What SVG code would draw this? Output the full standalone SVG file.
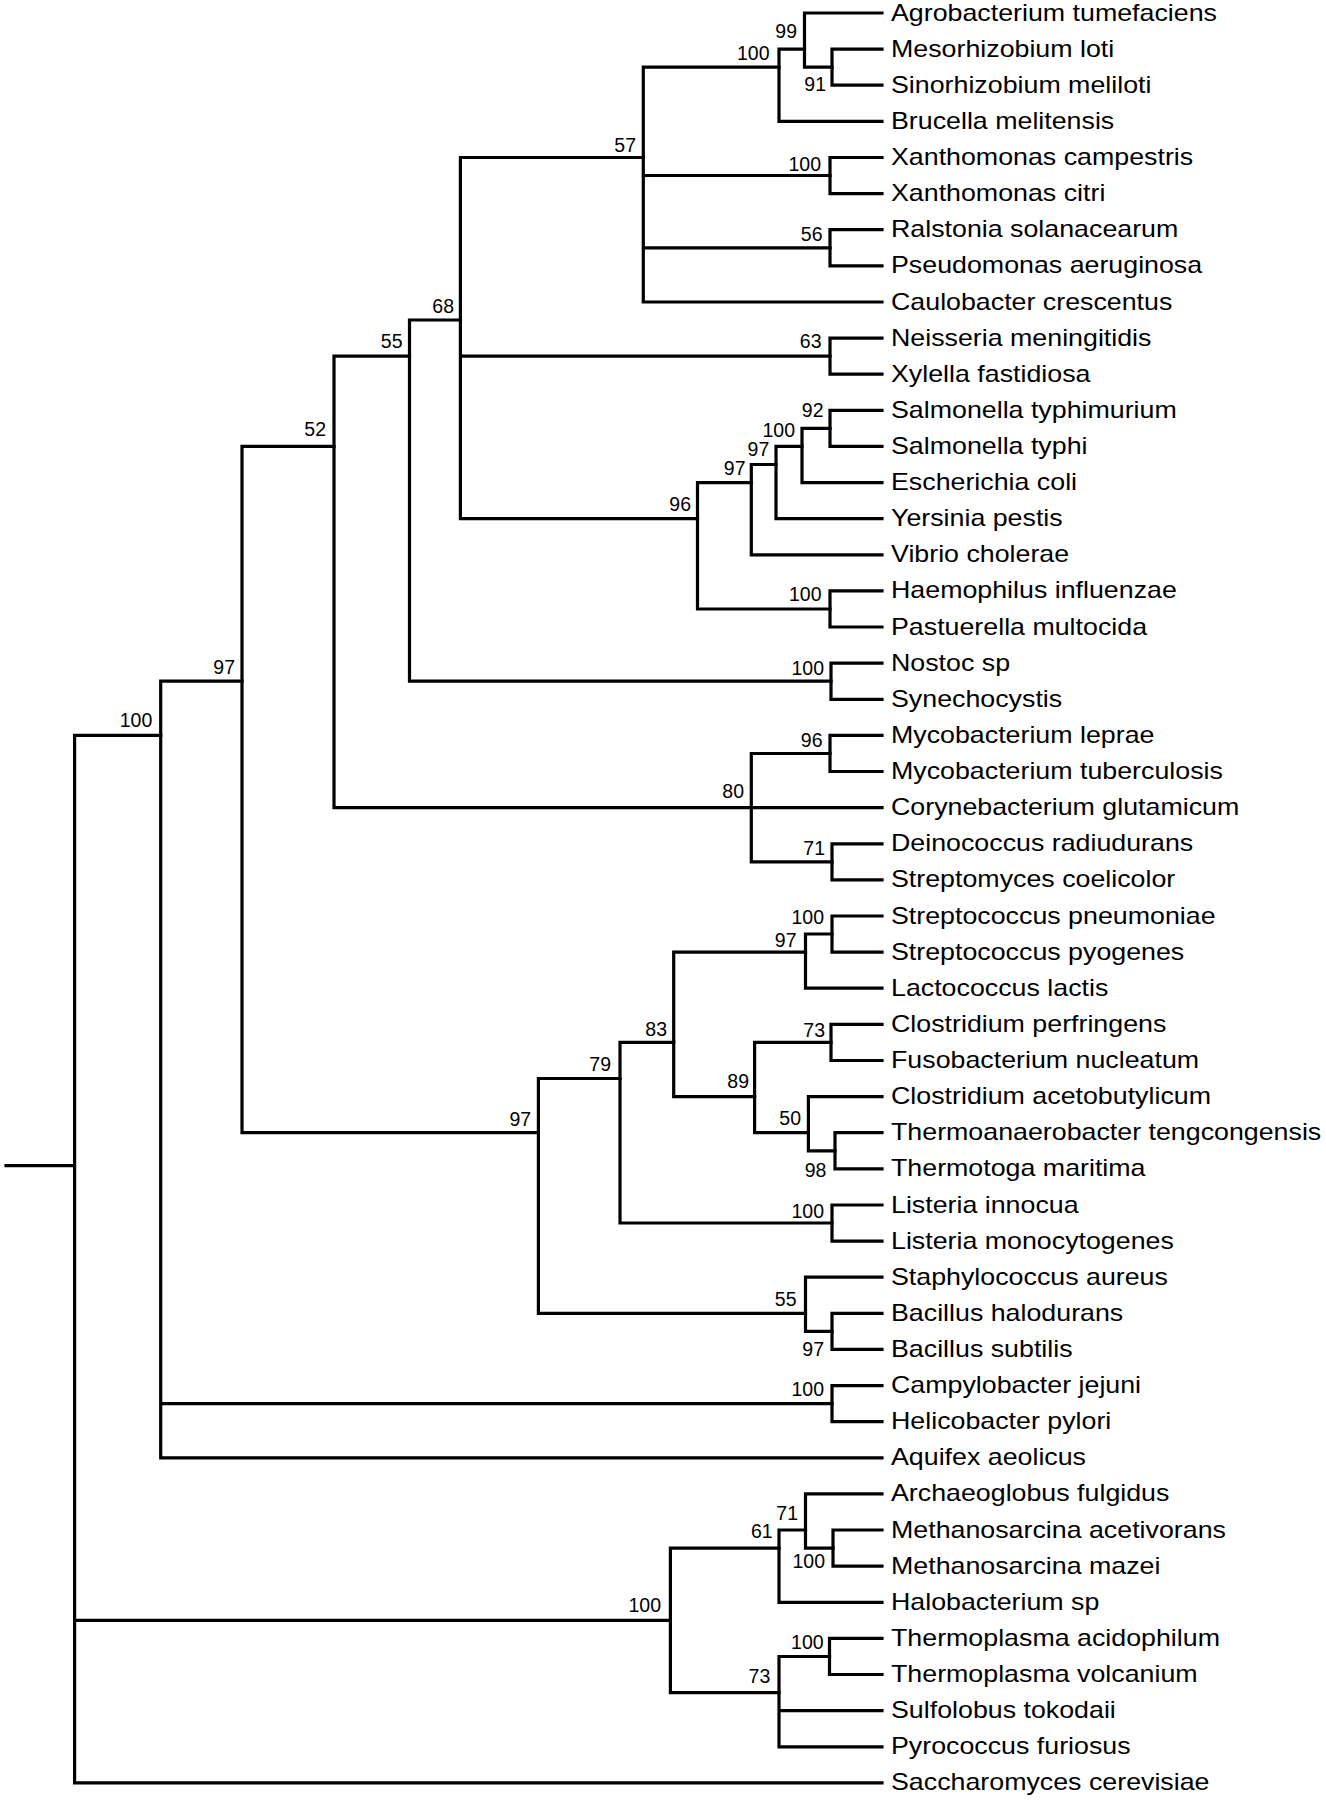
<svg xmlns="http://www.w3.org/2000/svg" width="1326" height="1800" viewBox="0 0 1326 1800">
<style>
.br{fill:none;stroke:#000;stroke-width:3.2;stroke-linecap:square;stroke-linejoin:miter}
.lf{font-family:"Liberation Sans",Arial,Helvetica,sans-serif;font-size:23.2px;fill:#000}
.bs{font-family:"Liberation Sans",Arial,Helvetica,sans-serif;font-size:19.5px;fill:#000;text-anchor:end}
</style>
<rect width="1326" height="1800" fill="#fff"/>
<g id="branches" class="br">
<path d="M832 49.1V85.2M832 49.1H882M832 85.2H882"/>
<path d="M804.5 13V67.2M804.5 13H882M804.5 67.2H832"/>
<path d="M779 49.1V121.4M779 49.1H804.5M779 121.4H882"/>
<path d="M830 157.5V193.6M830 157.5H882M830 193.6H882"/>
<path d="M830 229.7V265.8M830 229.7H882M830 265.8H882"/>
<path d="M643.3 67.2V302M643.3 67.2H779M643.3 175.5H830M643.3 247.8H830M643.3 302H882"/>
<path d="M830 338.1V374.2M830 338.1H882M830 374.2H882"/>
<path d="M830 410.3V446.4M830 410.3H882M830 446.4H882"/>
<path d="M802 428.4V482.6M802 428.4H830M802 482.6H882"/>
<path d="M776 446.4V518.7M776 446.4H802M776 518.7H882"/>
<path d="M751.3 464.5V554.8M751.3 464.5H776M751.3 554.8H882"/>
<path d="M830 590.9V627M830 590.9H882M830 627H882"/>
<path d="M697.5 482.6V609M697.5 482.6H751.3M697.5 609H830"/>
<path d="M460.4 157.5V518.7M460.4 157.5H643.3M460.4 356.1H830M460.4 518.7H697.5"/>
<path d="M831 663.2V699.3M831 663.2H882M831 699.3H882"/>
<path d="M409.5 320V681.2M409.5 320H460.4M409.5 681.2H831"/>
<path d="M830 735.4V771.5M830 735.4H882M830 771.5H882"/>
<path d="M832 843.8V879.9M832 843.8H882M832 879.9H882"/>
<path d="M751.3 753.5V861.8M751.3 753.5H830M751.3 807.6H882M751.3 861.8H832"/>
<path d="M334 356.1V807.6M334 356.1H409.5M334 807.6H751.3"/>
<path d="M832 916V952.1M832 916H882M832 952.1H882"/>
<path d="M805.5 934V988.2M805.5 934H832M805.5 988.2H882"/>
<path d="M831 1024.4V1060.5M831 1024.4H882M831 1060.5H882"/>
<path d="M835 1132.7V1168.8M835 1132.7H882M835 1168.8H882"/>
<path d="M808.4 1096.6V1150.8M808.4 1096.6H882M808.4 1150.8H835"/>
<path d="M754.6 1042.4V1132.7M754.6 1042.4H831M754.6 1132.7H808.4"/>
<path d="M673.7 952.1V1096.6M673.7 952.1H805.5M673.7 1096.6H754.6"/>
<path d="M832 1205V1241.1M832 1205H882M832 1241.1H882"/>
<path d="M620 1042.4V1223M620 1042.4H673.7M620 1223H832"/>
<path d="M832 1313.3V1349.4M832 1313.3H882M832 1349.4H882"/>
<path d="M805.5 1277.2V1331.4M805.5 1277.2H882M805.5 1331.4H832"/>
<path d="M538.4 1078.5V1313.3M538.4 1078.5H620M538.4 1313.3H805.5"/>
<path d="M242 446.4V1132.7M242 446.4H334M242 1132.7H538.4"/>
<path d="M832 1385.6V1421.7M832 1385.6H882M832 1421.7H882"/>
<path d="M160.7 681.2V1457.8M160.7 681.2H242M160.7 1403.6H832M160.7 1457.8H882"/>
<path d="M833 1530V1566.2M833 1530H882M833 1566.2H882"/>
<path d="M805.5 1493.9V1548.1M805.5 1493.9H882M805.5 1548.1H833"/>
<path d="M779 1530V1602.3M779 1530H805.5M779 1602.3H882"/>
<path d="M829.5 1638.4V1674.5M829.5 1638.4H882M829.5 1674.5H882"/>
<path d="M779 1656.5V1746.8M779 1656.5H829.5M779 1710.6H882M779 1746.8H882"/>
<path d="M670.4 1548.1V1692.6M670.4 1548.1H779M670.4 1692.6H779"/>
<path d="M74.6 735.4V1782.9M74.6 735.4H160.7M74.6 1620.4H670.4M74.6 1782.9H882M6 1165.6H74.6"/>
</g>
<g id="support-values" class="bs">
<g id="n99"><text x="797" y="37.5">99</text></g>
<g id="n100-rhizobia"><text x="769.5" y="60">100</text></g>
<g id="n91"><text x="826" y="90.5">91</text></g>
<g id="n57"><text x="636" y="151.5">57</text></g>
<g id="n100-xanthomonas"><text x="821" y="170.5">100</text></g>
<g id="n56"><text x="822.5" y="240.5">56</text></g>
<g id="n63"><text x="821.5" y="347.5">63</text></g>
<g id="n92"><text x="823.5" y="417">92</text></g>
<g id="n100-entero"><text x="795" y="437">100</text></g>
<g id="n97-entero2"><text x="769.3" y="455.5">97</text></g>
<g id="n97-entero1"><text x="745.5" y="475">97</text></g>
<g id="n96-gamma"><text x="691" y="510.5">96</text></g>
<g id="n100-pasteurellaceae"><text x="821.5" y="600.5">100</text></g>
<g id="n100-cyanobacteria"><text x="824" y="675">100</text></g>
<g id="n68"><text x="454" y="312.5">68</text></g>
<g id="n55-proteo"><text x="402.5" y="348">55</text></g>
<g id="n52"><text x="326" y="436">52</text></g>
<g id="n97-bacteria"><text x="235" y="674">97</text></g>
<g id="n100-bacteria"><text x="152.3" y="726.7">100</text></g>
<g id="n96-mycobacteria"><text x="822.5" y="746.5">96</text></g>
<g id="n80"><text x="744" y="798">80</text></g>
<g id="n71-deino"><text x="825" y="855">71</text></g>
<g id="n100-streptococcus"><text x="824" y="924">100</text></g>
<g id="n97-lacto"><text x="796.5" y="947">97</text></g>
<g id="n83"><text x="667" y="1036">83</text></g>
<g id="n73-clostridia"><text x="825" y="1037">73</text></g>
<g id="n79"><text x="611" y="1070.5">79</text></g>
<g id="n89"><text x="749" y="1088">89</text></g>
<g id="n50"><text x="801" y="1125">50</text></g>
<g id="n98"><text x="826.4" y="1176.5">98</text></g>
<g id="n97-firmicutes"><text x="531.2" y="1125.5">97</text></g>
<g id="n100-listeria"><text x="824" y="1218">100</text></g>
<g id="n55-bacillales"><text x="796.5" y="1306">55</text></g>
<g id="n97-bacillus"><text x="824" y="1355.5">97</text></g>
<g id="n100-epsilon"><text x="824" y="1396">100</text></g>
<g id="n71-archaea"><text x="798" y="1520">71</text></g>
<g id="n61"><text x="772.7" y="1538">61</text></g>
<g id="n100-methanosarcina"><text x="825" y="1568">100</text></g>
<g id="n100-archaea"><text x="661" y="1611.5">100</text></g>
<g id="n100-thermoplasma"><text x="823.6" y="1649">100</text></g>
<g id="n73-archaea"><text x="770.3" y="1683">73</text></g>
</g>
<g id="leaves" class="lf">
<g id="leaf00"><text transform="translate(891 20.5) scale(1.155 1)">Agrobacterium tumefaciens</text></g>
<g id="leaf01"><text transform="translate(891 56.6) scale(1.155 1)">Mesorhizobium loti</text></g>
<g id="leaf02"><text transform="translate(891 92.7) scale(1.155 1)">Sinorhizobium meliloti</text></g>
<g id="leaf03"><text transform="translate(891 128.9) scale(1.155 1)">Brucella melitensis</text></g>
<g id="leaf04"><text transform="translate(891 165) scale(1.155 1)">Xanthomonas campestris</text></g>
<g id="leaf05"><text transform="translate(891 201.1) scale(1.155 1)">Xanthomonas citri</text></g>
<g id="leaf06"><text transform="translate(891 237.2) scale(1.155 1)">Ralstonia solanacearum</text></g>
<g id="leaf07"><text transform="translate(891 273.3) scale(1.155 1)">Pseudomonas aeruginosa</text></g>
<g id="leaf08"><text transform="translate(891 309.5) scale(1.155 1)">Caulobacter crescentus</text></g>
<g id="leaf09"><text transform="translate(891 345.6) scale(1.155 1)">Neisseria meningitidis</text></g>
<g id="leaf10"><text transform="translate(891 381.7) scale(1.155 1)">Xylella fastidiosa</text></g>
<g id="leaf11"><text transform="translate(891 417.8) scale(1.155 1)">Salmonella typhimurium</text></g>
<g id="leaf12"><text transform="translate(891 453.9) scale(1.155 1)">Salmonella typhi</text></g>
<g id="leaf13"><text transform="translate(891 490.1) scale(1.155 1)">Escherichia coli</text></g>
<g id="leaf14"><text transform="translate(891 526.2) scale(1.155 1)">Yersinia pestis</text></g>
<g id="leaf15"><text transform="translate(891 562.3) scale(1.155 1)">Vibrio cholerae</text></g>
<g id="leaf16"><text transform="translate(891 598.4) scale(1.155 1)">Haemophilus influenzae</text></g>
<g id="leaf17"><text transform="translate(891 634.5) scale(1.155 1)">Pastuerella multocida</text></g>
<g id="leaf18"><text transform="translate(891 670.7) scale(1.155 1)">Nostoc sp</text></g>
<g id="leaf19"><text transform="translate(891 706.8) scale(1.155 1)">Synechocystis</text></g>
<g id="leaf20"><text transform="translate(891 742.9) scale(1.155 1)">Mycobacterium leprae</text></g>
<g id="leaf21"><text transform="translate(891 779) scale(1.155 1)">Mycobacterium tuberculosis</text></g>
<g id="leaf22"><text transform="translate(891 815.1) scale(1.155 1)">Corynebacterium glutamicum</text></g>
<g id="leaf23"><text transform="translate(891 851.3) scale(1.155 1)">Deinococcus radiudurans</text></g>
<g id="leaf24"><text transform="translate(891 887.4) scale(1.155 1)">Streptomyces coelicolor</text></g>
<g id="leaf25"><text transform="translate(891 923.5) scale(1.155 1)">Streptococcus pneumoniae</text></g>
<g id="leaf26"><text transform="translate(891 959.6) scale(1.155 1)">Streptococcus pyogenes</text></g>
<g id="leaf27"><text transform="translate(891 995.7) scale(1.155 1)">Lactococcus lactis</text></g>
<g id="leaf28"><text transform="translate(891 1031.9) scale(1.155 1)">Clostridium perfringens</text></g>
<g id="leaf29"><text transform="translate(891 1068) scale(1.155 1)">Fusobacterium nucleatum</text></g>
<g id="leaf30"><text transform="translate(891 1104.1) scale(1.155 1)">Clostridium acetobutylicum</text></g>
<g id="leaf31"><text transform="translate(891 1140.2) scale(1.155 1)">Thermoanaerobacter tengcongensis</text></g>
<g id="leaf32"><text transform="translate(891 1176.3) scale(1.155 1)">Thermotoga maritima</text></g>
<g id="leaf33"><text transform="translate(891 1212.5) scale(1.155 1)">Listeria innocua</text></g>
<g id="leaf34"><text transform="translate(891 1248.6) scale(1.155 1)">Listeria monocytogenes</text></g>
<g id="leaf35"><text transform="translate(891 1284.7) scale(1.155 1)">Staphylococcus aureus</text></g>
<g id="leaf36"><text transform="translate(891 1320.8) scale(1.155 1)">Bacillus halodurans</text></g>
<g id="leaf37"><text transform="translate(891 1356.9) scale(1.155 1)">Bacillus subtilis</text></g>
<g id="leaf38"><text transform="translate(891 1393.1) scale(1.155 1)">Campylobacter jejuni</text></g>
<g id="leaf39"><text transform="translate(891 1429.2) scale(1.155 1)">Helicobacter pylori</text></g>
<g id="leaf40"><text transform="translate(891 1465.3) scale(1.155 1)">Aquifex aeolicus</text></g>
<g id="leaf41"><text transform="translate(891 1501.4) scale(1.155 1)">Archaeoglobus fulgidus</text></g>
<g id="leaf42"><text transform="translate(891 1537.5) scale(1.155 1)">Methanosarcina acetivorans</text></g>
<g id="leaf43"><text transform="translate(891 1573.7) scale(1.155 1)">Methanosarcina mazei</text></g>
<g id="leaf44"><text transform="translate(891 1609.8) scale(1.155 1)">Halobacterium sp</text></g>
<g id="leaf45"><text transform="translate(891 1645.9) scale(1.155 1)">Thermoplasma acidophilum</text></g>
<g id="leaf46"><text transform="translate(891 1682) scale(1.155 1)">Thermoplasma volcanium</text></g>
<g id="leaf47"><text transform="translate(891 1718.1) scale(1.155 1)">Sulfolobus tokodaii</text></g>
<g id="leaf48"><text transform="translate(891 1754.3) scale(1.155 1)">Pyrococcus furiosus</text></g>
<g id="leaf49"><text transform="translate(891 1790.4) scale(1.155 1)">Saccharomyces cerevisiae</text></g>
</g>
</svg>
